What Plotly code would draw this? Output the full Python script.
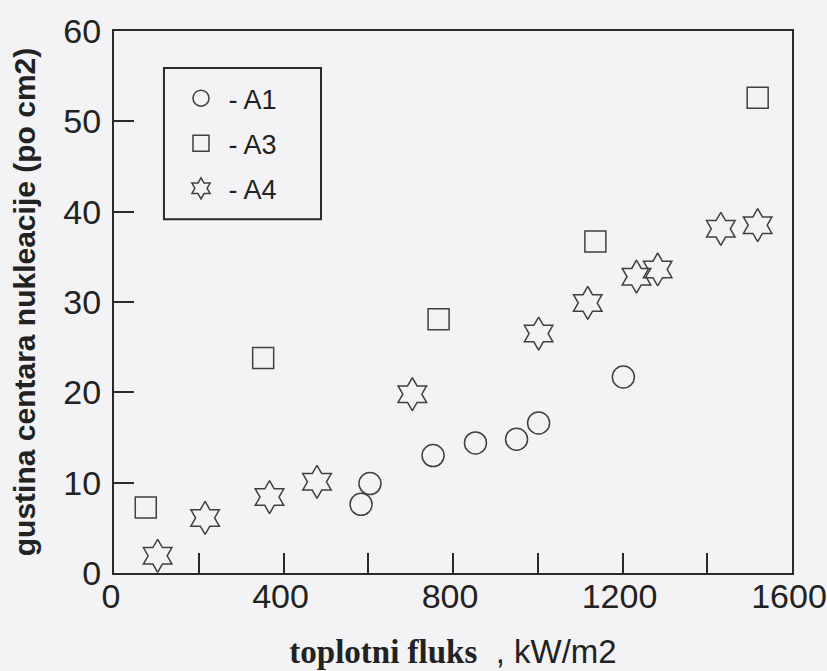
import plotly.graph_objects as go

# Data
a1_x = [583, 604, 753, 853, 950, 1002, 1202]
a1_y = [7.6, 9.9, 13.0, 14.4, 14.8, 16.6, 21.7]

a3_x = [75, 352, 766, 1136, 1519]
a3_y = [7.25, 23.8, 28.1, 36.7, 52.6]

a4_x = [103, 215, 367, 479, 704, 1002, 1118, 1233, 1283, 1432, 1519]
a4_y = [1.9, 6.1, 8.4, 10.1, 19.8, 26.5, 29.9, 32.8, 33.6, 38.1, 38.5]

series_names = [" - A1", " - A3", " - A4"]
x_ticks = [0, 400, 800, 1200, 1600]
y_ticks = [0, 10, 20, 30, 40, 50, 60]

ink = "#404040"
axc = "#2a2a2a"
bg = "#f3f3f5"

fig = go.Figure()
for xs, ys, name, sym, size, grp in [
    (a1_x, a1_y, series_names[0], "circle-open", 22, "g1"),
    (a3_x, a3_y, series_names[1], "square-open", 21, "g2"),
    (a4_x, a4_y, series_names[2], "hexagram-open", 25, "g3"),
]:
    fig.add_trace(go.Scatter(
        x=xs, y=ys, mode="markers", name=name, legendgroup=grp,
        marker=dict(symbol=sym, size=size, color=ink, line=dict(color=ink, width=1.5)),
    ))

axis_common = dict(
    showline=True, linecolor=axc, linewidth=2, mirror=True, automargin=False,
    showgrid=False, zeroline=False, ticks="inside", ticklen=20, tickwidth=2,
    tickcolor=axc, ticklabeloverflow="allow",
    tickfont=dict(family="Liberation Sans, Arial", size=34, color="#222"),
)

fig.update_xaxes(
    range=[0, 1600], tickvals=x_ticks, ticktext=[str(v) for v in x_ticks],
    minor=dict(dtick=200, ticks="inside", ticklen=20, tickwidth=2, tickcolor=axc),
    ticklabelstandoff=-8, ticklabelshift=-3,
    title=dict(
        text="<b><span style='font-family:Liberation Serif'>toplotni fluks</span></b>  , kW/m2",
        font=dict(family="Liberation Sans, Arial", size=33, color="#222"),
        standoff=26,
    ),
    **axis_common,
)
fig.update_yaxes(
    range=[0, 60], tickvals=y_ticks, ticktext=[str(v) for v in y_ticks],
    ticklabelstandoff=4,
    title=dict(
        text="<b>gustina centara nukleacije (po cm2)</b>",
        font=dict(family="Liberation Sans, Arial", size=30, color="#222"),
        standoff=19,
    ),
    **axis_common,
)

fig.add_shape(type="rect", xref="paper", yref="paper",
              x0=0.0737, x1=0.3053, y0=0.6525, y1=0.9316,
              line=dict(color=axc, width=2), fillcolor="rgba(0,0,0,0)")

fig.update_layout(
    width=827, height=671,
    margin=dict(l=114, r=35, t=31, b=98),
    paper_bgcolor=bg, plot_bgcolor=bg,
    showlegend=True,
    legend=dict(
        x=0.0988, y=0.9205, xanchor="left", yanchor="top",
        bgcolor="rgba(0,0,0,0)", borderwidth=0,
        font=dict(family="Liberation Sans, Arial", size=27, color="#222"),
        traceorder="grouped", tracegroupgap=7, itemsizing="trace",
    ),
)

fig.write_html(
    "out.html",
    config={"displayModeBar": False},
    post_script="document.body.style.margin='0';document.body.style.background='#f3f3f5';",
)
